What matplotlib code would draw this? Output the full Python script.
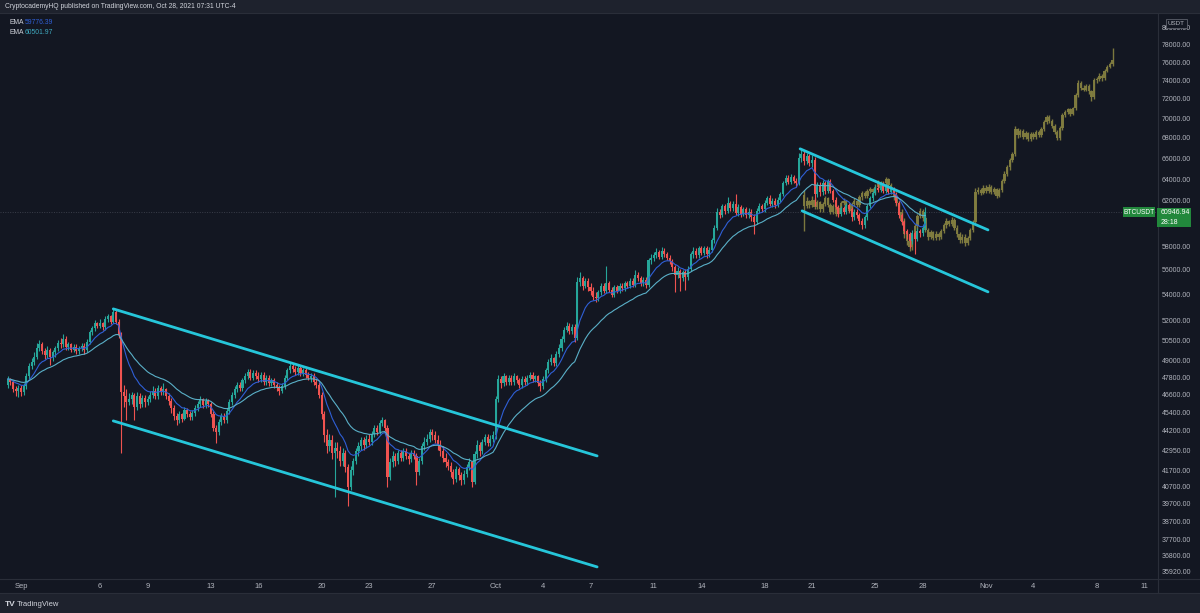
import numpy as np
import pandas as pd
import matplotlib
matplotlib.use("Agg")
import matplotlib.pyplot as plt
from matplotlib.patches import Rectangle
from matplotlib.lines import Line2D
from matplotlib.ticker import NullLocator

# ---------------- DATA ----------------
REAL_START = "2021-08-31 04:00"   # 4h candles
REAL_FIRST_OPEN = 47300
real_close = [
    47700, 47500, 47000, 46900, 47100,                 # Aug 31
    46800, 47200, 47900, 48600, 48900, 49300,          # Sep 1
    49900, 50200, 49700, 49400, 49800, 49300,          # Sep 2
    49600, 49900, 50300, 50200, 50600, 50000,          # Sep 3
    50200, 49800, 50000, 49700, 49900, 50100,          # Sep 4
    49800, 50400, 51100, 51400, 51800, 51600,          # Sep 5
    51800, 51500, 52100, 52300, 51900, 52600,          # Sep 6
    51900, 50900, 46800, 46500, 46100, 46300,          # Sep 7
    46600, 45800, 46500, 46000, 46400, 46100,          # Sep 8
    46300, 46600, 46900, 46500, 47100, 46800,          # Sep 9
    47000, 46500, 46200, 45700, 45200, 44900,          # Sep 10
    45300, 45000, 45600, 45300, 45100, 45400,          # Sep 11
    45700, 46000, 46300, 45900, 46200, 46000,          # Sep 12
    45300, 44400, 44100, 44800, 45200, 44900,          # Sep 13
    45500, 46100, 46600, 47000, 47300, 47100,          # Sep 14
    47600, 47900, 48200, 47800, 48100, 47900,          # Sep 15
    47700, 48000, 47500, 47800, 47400, 47600,          # Sep 16
    47300, 47100, 46900, 47200, 47800, 48300,          # Sep 17
    48600, 48400, 48200, 48500, 48100, 48300,          # Sep 18
    48000, 47800, 47900, 47500, 47300, 46600,          # Sep 19
    45300, 43900, 43200, 43600, 42800, 43100,          # Sep 20
    42900, 42300, 42800, 41900, 40700, 41700,          # Sep 21
    42300, 42900, 43200, 43600, 43300, 43700,          # Sep 22
    43500, 44000, 44400, 44100, 44700, 44900,          # Sep 23
    44400, 41300, 42200, 42600, 42300, 42800,          # Sep 24
    42500, 42900, 42600, 42400, 42800, 42600,          # Sep 25
    41600, 42300, 43200, 43500, 43700, 44100,          # Sep 26
    43900, 43600, 43300, 42900, 42500, 42200,          # Sep 27
    42000, 41600, 41200, 41800, 41400, 41100,          # Sep 28
    41500, 41900, 42200, 41000, 42700, 43300,          # Sep 29
    42900, 43500, 43800, 43400, 43700, 43900,          # Sep 30
    46300, 47700, 47400, 47900, 47500, 47800,          # Oct 1
    47500, 47900, 47600, 47300, 47700, 47500,          # Oct 2
    47800, 48000, 47700, 47900, 47400, 47200,          # Oct 3
    47700, 48300, 48900, 49200, 48800, 49500,          # Oct 4
    49900, 50600, 51300, 51600, 51200, 51500,          # Oct 5
    50700, 55000, 55300, 54700, 55100, 54600,          # Oct 6
    54300, 53800, 53700, 54200, 54700, 54300,          # Oct 7
    54900, 54400, 54000, 54600, 54300, 54700,          # Oct 8
    54500, 54900, 54700, 55100, 54800, 55600,          # Oct 9
    55300, 54900, 55200, 54800, 56800, 57000,          # Oct 10
    57200, 57500, 57100, 57600, 57300, 57000,          # Oct 11
    56700, 56200, 55600, 55900, 55300, 55800,          # Oct 12
    55400, 56100, 57300, 57600, 57200, 57800,          # Oct 13
    57400, 57800, 57300, 57700, 58500, 59600,          # Oct 14
    61000, 60700, 61500, 61100, 61800, 61300,          # Oct 15
    61700, 60900, 61400, 60800, 61200, 60700,          # Oct 16
    61000, 60500, 60100, 61100, 61500, 61200,          # Oct 17
    61800, 62200, 61700, 62000, 61600, 62100,          # Oct 18
    62600, 63600, 64100, 63700, 64200, 63800,          # Oct 19
    63600, 66000, 66400, 65700, 66200, 65500,          # Oct 20
    65800, 62600, 63400, 62800, 63600, 62900,          # Oct 21
    63800, 62900, 62100, 61400, 60800, 61300,          # Oct 22
    61000, 61600, 61200, 60500, 61000, 60700,          # Oct 23
    60200, 59800, 60500, 61500, 62200, 62700,          # Oct 24
    63200, 63000, 63500, 62900, 63300, 62800,          # Oct 25
    63100, 62600, 61800, 60700, 60100, 59300,          # Oct 26
    59000, 58400, 59100, 58600, 59300, 59100,          # Oct 27
    59600, 60946.94,                                   # Oct 28
]
real_high = [
    47900, 47800, 47600, 47200, 47300,
    47300, 47400, 48100, 48800, 49200, 49600,
    50300, 50500, 50400, 49900, 50100, 49900,
    49800, 50100, 50500, 50700, 51000, 50800,
    50400, 50300, 50200, 50200, 50100, 50300,
    50300, 50600, 51300, 51600, 52000, 51900,
    52100, 51900, 52300, 52500, 52400, 52900,
    52900, 52100, 51100, 47300, 47000, 46700,
    46800, 46700, 46800, 46700, 46600, 46600,
    46500, 46900, 47200, 47100, 47300, 47200,
    47400, 47100, 46700, 46400, 45900, 45400,
    45500, 45400, 45800, 45700, 45500, 45600,
    45900, 46200, 46500, 46400, 46400, 46300,
    46100, 45500, 44600, 45000, 45400, 45400,
    45700, 46300, 46800, 47200, 47500, 47500,
    47800, 48100, 48400, 48400, 48300, 48300,
    48200, 48200, 48200, 48000, 48000, 47800,
    47800, 47500, 47300, 47400, 48000, 48500,
    48800, 48800, 48600, 48700, 48600, 48500,
    48500, 48200, 48100, 48100, 47700, 47500,
    46800, 45500, 44300, 44000, 43900, 43500,
    43500, 43200, 43100, 43000, 42100, 42000,
    42500, 43100, 43500, 43800, 43800, 43900,
    44000, 44200, 44600, 44600, 44900, 45100,
    45000, 44600, 42500, 42900, 42800, 43000,
    43000, 43100, 43100, 42800, 43000, 43000,
    42800, 42500, 43400, 43800, 44000, 44300,
    44300, 44200, 43900, 43600, 43200, 42800,
    42400, 42200, 41800, 42000, 41900, 41600,
    41700, 42100, 42500, 42300, 42900, 43600,
    43500, 43700, 44000, 44000, 43900, 44200,
    46500, 48000, 47900, 48100, 48000, 48000,
    48000, 48100, 48000, 47800, 47900, 47900,
    48000, 48200, 48200, 48000, 48000, 47600,
    47900, 48500, 49100, 49500, 49300, 49700,
    50200, 50800, 51500, 51900, 51800, 51700,
    51700, 55400, 55800, 55500, 55300, 55300,
    54900, 54600, 54200, 54400, 54900, 54900,
    56300, 55100, 54600, 54800, 54800, 54900,
    54900, 55100, 55100, 55300, 55300, 56000,
    55800, 55500, 55400, 55400, 57000, 57300,
    57500, 57800, 57700, 57900, 57800, 57500,
    57200, 56900, 56400, 56200, 56100, 56000,
    56100, 56300, 57500, 57900, 57800, 58000,
    58000, 58000, 58000, 57900, 58700, 59800,
    61300, 61200, 61700, 61700, 62300, 62000,
    62000, 62600, 61700, 61600, 61400, 61400,
    61300, 61200, 60800, 61300, 61800, 61700,
    62100, 62400, 62500, 62200, 62200, 62300,
    62800, 63800, 64400, 64400, 64500, 64400,
    64100, 66500, 67000, 66700, 66500, 66400,
    66300, 66100, 63700, 63700, 63900, 63800,
    64000, 64000, 63100, 62300, 61600, 61500,
    61500, 61800, 61800, 61400, 61200, 61200,
    60900, 60400, 60700, 61700, 62400, 62900,
    63400, 63500, 63700, 63700, 63500, 63400,
    63300, 63300, 62800, 62000, 60900, 60300,
    59500, 59200, 59400, 59300, 59600, 59500,
    59900, 61400,
]
real_low = [
    47100, 47300, 46800, 46500, 46450,
    46500, 46600, 47000, 47700, 48400, 48700,
    49100, 49700, 49500, 49100, 49200, 48700,
    49000, 49300, 49700, 49900, 50000, 49800,
    49800, 49600, 49600, 49500, 49500, 49700,
    49500, 49600, 50200, 50900, 51200, 51400,
    51400, 51300, 51300, 51900, 51700, 51800,
    51700, 50700, 42800, 45800, 44900, 45900,
    46000, 44900, 45600, 45700, 45800, 45800,
    45900, 46100, 46400, 46300, 46300, 46600,
    46600, 46300, 45900, 45400, 44900, 44600,
    44700, 44800, 44900, 45100, 44900, 44900,
    45200, 45500, 45800, 45700, 45700, 45800,
    45100, 44200, 43400, 43900, 44600, 44700,
    44700, 45300, 45900, 46400, 46800, 46900,
    46900, 47400, 47700, 47600, 47600, 47700,
    47500, 47500, 47300, 47300, 47200, 47200,
    47100, 46900, 46600, 46700, 47000, 47600,
    48100, 48200, 48000, 48000, 47900, 47900,
    47800, 47600, 47500, 47300, 47100, 46400,
    45000, 43500, 42800, 42900, 42400, 40100,
    42500, 42000, 42000, 41600, 39600, 40500,
    41400, 42100, 42600, 43000, 43000, 43100,
    43300, 43300, 43800, 43900, 44000, 44500,
    44200, 40700, 41100, 41900, 42000, 42100,
    42300, 42300, 42400, 42100, 42200, 42400,
    40800, 41400, 42100, 43000, 43300, 43500,
    43600, 43400, 43000, 42600, 42200, 41900,
    41700, 41300, 40900, 41000, 41100, 40800,
    40900, 41300, 41700, 40700, 40900, 42500,
    42600, 42700, 43300, 43200, 43200, 43500,
    43700, 46100, 47100, 47200, 47300, 47300,
    47300, 47300, 47400, 47100, 47100, 47300,
    47300, 47600, 47500, 47500, 47200, 46900,
    47000, 47500, 48100, 48700, 48600, 48600,
    49300, 49700, 50400, 51100, 51000, 51000,
    50400, 50500, 54700, 54400, 54500, 54300,
    54000, 53600, 53400, 53500, 54000, 54100,
    54100, 54200, 53800, 53800, 54100, 54100,
    54300, 54300, 54500, 54500, 54600, 54600,
    55100, 54700, 54700, 54500, 54600, 56500,
    56700, 57000, 56900, 56900, 57100, 56800,
    56500, 55900, 54200, 55300, 54300, 55100,
    54400, 55200, 55900, 57000, 57000, 57000,
    57200, 57200, 57000, 57100, 57500, 58300,
    59400, 60400, 60500, 60800, 60900, 61100,
    61100, 60700, 60600, 60500, 60600, 60400,
    60400, 60200, 59000, 59900, 60900, 61000,
    61000, 61600, 61500, 61400, 61300, 61400,
    61900, 62400, 63400, 63500, 63500, 63600,
    63300, 63400, 65600, 65300, 65400, 65200,
    65100, 61500, 62300, 62400, 62500, 62600,
    62700, 62700, 61900, 61200, 60500, 60600,
    60800, 60800, 61000, 60200, 60300, 60400,
    59900, 59500, 59600, 60300, 61300, 62000,
    62500, 62800, 62800, 62700, 62700, 62600,
    62600, 62400, 61600, 60400, 59800, 59000,
    58600, 57800, 58200, 57300, 58400, 58800,
    58900, 59400,
]

# projected "bars pattern" (olive ghost bars)
GHOST_START = "2021-10-20 12:00"
GHOST_FIRST_OPEN = 62500
ghost_close = [
    61500, 62000, 61600,                               # Oct 20
    62100, 61400, 61900, 61200, 61700, 62200,          # Oct 21
    61600, 61000, 61500, 60800, 61300, 61800,          # Oct 22
    62000, 61500, 61100, 61700, 62000, 61600,          # Oct 23
    62300, 62700, 62400, 62900, 63100, 62800,          # Oct 24
    63300, 63700, 63200, 63600, 64000, 63400,          # Oct 25
    62900, 62300, 61800, 61000, 60200, 59000,          # Oct 26
    58400, 57900, 58800, 59700, 60600, 61100,          # Oct 27
    60400, 59400, 58800, 59200, 58700, 59000,          # Oct 28
    58800, 59300, 59800, 60200, 59900, 60300,          # Oct 29
    59600, 59000, 58500, 58800, 58300, 58700,          # Oct 30
    59400, 60100, 62800, 63000, 62700, 63200,          # Oct 31
    62900, 63300, 62800, 63100, 62400, 63000,          # Nov 1
    63800, 64500, 65100, 65800, 66400, 68900,          # Nov 2
    68300, 68700, 68100, 68500, 67900, 68400,          # Nov 3
    68100, 68600, 68300, 68900, 69600, 70100,          # Nov 4
    69700, 69200, 68600, 68000, 69000, 70300,          # Nov 5
    70600, 70900, 70400, 71000, 72400, 73700,          # Nov 6
    73200, 73000, 73400, 72800, 72200, 74000,          # Nov 7
    74100, 74500, 74200, 75000, 75500, 75800,          # Nov 8
    76200,                                             # Nov 9
]
ghost_high = [
    63000, 62300, 62100,
    62400, 62200, 62100, 62000, 61900, 62400,
    62300, 61800, 61700, 61600, 61500, 62000,
    62200, 62100, 61600, 61900, 62200, 62100,
    62500, 62900, 62900, 63100, 63300, 63200,
    63500, 63900, 63800, 63800, 64200, 64100,
    63600, 63100, 62500, 62000, 61200, 60400,
    59200, 58700, 59000, 59900, 60800, 61300,
    61200, 60600, 59600, 59400, 59300, 59300,
    59200, 59500, 60000, 60400, 60300, 60500,
    60400, 59800, 59200, 59000, 59000, 58900,
    59600, 60300, 63200, 63300, 63200, 63400,
    63400, 63500, 63400, 63300, 63200, 63200,
    64000, 64800, 65300, 66000, 66600, 69200,
    69000, 68900, 68900, 68700, 68600, 68600,
    68600, 68800, 68800, 69100, 69800, 70300,
    70300, 69900, 69400, 68800, 69200, 70500,
    70800, 71100, 71100, 71200, 72600, 74000,
    73900, 73500, 73600, 73600, 73000, 74200,
    74400, 74800, 74700, 75200, 75700, 76000,
    77600,
]
ghost_low = [
    59300, 61300, 61300,
    61400, 61200, 61200, 61000, 61000, 61500,
    61400, 60800, 60800, 60600, 60700, 61100,
    61600, 61300, 60900, 61000, 61500, 61400,
    61400, 62100, 62200, 62200, 62700, 62600,
    62600, 63100, 63000, 63000, 63400, 63200,
    62700, 62100, 61500, 60700, 59900, 58700,
    58100, 57600, 57700, 58600, 59500, 60400,
    60200, 59200, 58500, 58600, 58500, 58500,
    58500, 58600, 59100, 59600, 59700, 59700,
    59400, 58800, 58300, 58300, 58000, 58100,
    58500, 59200, 60000, 62600, 62500, 62600,
    62700, 62700, 62600, 62600, 62200, 62300,
    62800, 63600, 64300, 64900, 65600, 66200,
    68000, 68100, 67900, 67900, 67700, 67700,
    67900, 67900, 68100, 68100, 68700, 69400,
    69500, 69000, 68400, 67800, 67800, 68800,
    70100, 70400, 70200, 70300, 70800, 72200,
    73000, 72800, 72800, 72500, 71800, 72000,
    73700, 73900, 73900, 74000, 74900, 75300,
    75600,
]

# trend-channel drawings (time, price)
channel_a_upper = (["2021-09-06 20:00", "2021-10-07 10:00"], [52880, 42600])
channel_a_lower = (["2021-09-06 20:00", "2021-10-07 10:00"], [44850, 36185])
channel_b_upper = (["2021-10-20 06:00", "2021-11-01 03:00"], [66910, 59390])
channel_b_lower = (["2021-10-20 09:00", "2021-11-01 03:00"], [61075, 54220])

y_ticks = [80000, 78000, 76000, 74000, 72000, 70000, 68000, 66000, 64000, 62000,
           58000, 56000, 54000, 52000, 50500, 49000, 47800, 46600, 45400, 44200,
           42950, 41700, 40700, 39700, 38700, 37700, 36800, 35920]
x_tick_dates = ["2021-09-01", "2021-09-06", "2021-09-09", "2021-09-13", "2021-09-16",
                "2021-09-20", "2021-09-23", "2021-09-27", "2021-10-01", "2021-10-04",
                "2021-10-07", "2021-10-11", "2021-10-14", "2021-10-18", "2021-10-21",
                "2021-10-25", "2021-10-28", "2021-11-01", "2021-11-04", "2021-11-08",
                "2021-11-11"]
x_tick_labels = ["Sep", "6", "9", "13", "16", "20", "23", "27", "Oct", "4", "7", "11",
                 "14", "18", "21", "25", "28", "Nov", "4", "8", "11"]

last_price = 60946.94
ema_fast_label = "59776.39"
ema_slow_label = "60501.97"
header = "CryptocademyHQ published on TradingView.com, Oct 28, 2021 07:31 UTC-4"

# ---------------- STYLE ----------------
BG = "#131722"
FIG_BG = "#1e222d"
UP = "#26a69a"
DN = "#ef5350"
GHOST = "#827e40"
CYAN = "#26c6da"
EMA_FAST_C = "#2f5fd6"
EMA_SLOW_C = "#5ab0c8"
TXT = "#b2b5be"
SEP = "#2a2e39"
GREEN = "#22883c"
FONT = ["Liberation Sans", "DejaVu Sans"]
plt.rcParams["font.family"] = FONT

W, H = 1200, 613
ORIGIN = pd.Timestamp("2021-09-01")


def to_days(ts):
    return np.asarray((pd.to_datetime(ts) - ORIGIN) / pd.Timedelta(days=1), dtype=float)


def fx(px):
    return px / W


def fy(py):
    return 1 - py / H


fig = plt.figure(figsize=(W / 100, H / 100), dpi=100)
fig.patch.set_facecolor(FIG_BG)
fig.patches.append(Rectangle((0, fy(593)), 1, fy(13) - fy(593), transform=fig.transFigure,
                             facecolor=BG, edgecolor="none", zorder=-10))

ax = fig.add_axes([0, fy(578), fx(1157), fy(13) - fy(578)])
ax.set_zorder(1)
ax.set_facecolor(BG)
for s in ax.spines.values():
    s.set_visible(False)
ax.set_yscale("log")


def draw_candles(t, first_open, c, h, l, up, dn, width, lw, z, alpha=1.0):
    c = np.asarray(c, float)
    o = np.concatenate([[first_open], c[:-1]])
    colors = np.where(c >= o, up, dn)
    ax.vlines(t, l, h, colors=list(colors), lw=lw, zorder=z, alpha=alpha)
    ax.bar(t, np.abs(c - o), width=width, bottom=np.minimum(o, c), color=list(colors),
           linewidth=0, zorder=z + 0.1, alpha=alpha)


bar_step = pd.Timedelta(hours=4)
real_t = to_days(pd.date_range(REAL_START, periods=len(real_close), freq=bar_step))
ghost_t = to_days(pd.date_range(GHOST_START, periods=len(ghost_close), freq=bar_step))

# ghost bars first (behind)
draw_candles(ghost_t, GHOST_FIRST_OPEN, ghost_close, ghost_high, ghost_low, GHOST, GHOST,
             0.15, 1.0, 2, alpha=0.95)
# real candles
draw_candles(real_t, REAL_FIRST_OPEN, real_close, real_high, real_low, UP, DN, 0.13, 0.8, 4)

# EMAs
cs = pd.Series(real_close, dtype=float)
ax.plot(real_t, cs.ewm(span=10, adjust=False).mean(), color=EMA_FAST_C, lw=0.8, zorder=5)
ax.plot(real_t, cs.ewm(span=25, adjust=False).mean(), color=EMA_SLOW_C, lw=0.8, zorder=5)

# channels
for d, p in (channel_a_upper, channel_a_lower, channel_b_upper, channel_b_lower):
    ax.plot(to_days(d), p, color=CYAN, lw=2.0, solid_capstyle="round", zorder=6)

# last price line
ax.axhline(last_price, color="#3a3e4a", lw=0.7, ls=(0, (1, 1.5)), zorder=1)

ax.set_xlim(-1.3274, 71.808)
ax.set_ylim(35600, 81700)

ax.set_yticks(y_ticks, [f"{v:.2f}" for v in y_ticks])
ax.yaxis.set_minor_locator(NullLocator())
ax.yaxis.tick_right()
ax.tick_params(axis="y", which="both", length=0, pad=3.5, labelsize=5.0, labelcolor=TXT)
ax.set_xticks(to_days(x_tick_dates), x_tick_labels)
ax.tick_params(axis="x", length=0, pad=3.5, labelsize=5.5, labelcolor=TXT)

# separators
for (x0, y0, x1, y1) in [(1157.5, 13, 1157.5, 593), (0, 578.5, 1200, 578.5),
                         (0, 593, 1200, 593), (0, 12.5, 1200, 12.5)]:
    fig.add_artist(Line2D([fx(x0), fx(x1)], [fy(y0), fy(y1)], color=SEP, lw=0.8,
                          transform=fig.transFigure, zorder=2))

# header and legend
fig.text(fx(5), fy(6), header, fontsize=4.9, color="#d1d4dc", va="center", ha="left", zorder=3)
fig.text(fx(9), fy(23), "EMA", fontsize=4.9, color="#d1d4dc", va="center", zorder=3)
fig.text(fx(25), fy(23), ema_fast_label, fontsize=4.9, color=EMA_FAST_C, va="center", zorder=3)
fig.text(fx(9), fy(33), "EMA", fontsize=4.9, color="#d1d4dc", va="center", zorder=3)
fig.text(fx(25), fy(33), ema_slow_label, fontsize=4.9, color="#3fa9bf", va="center", zorder=3)

# last price label
fig.patches.append(Rectangle((fx(1157), fy(227)), fx(34), fy(208) - fy(227),
                             transform=fig.transFigure, facecolor=GREEN, edgecolor="none", zorder=3))
fig.text(fx(1161), fy(213), f"{last_price:.2f}", fontsize=5.0, color="white", va="center", zorder=4)
fig.text(fx(1161), fy(222), "28:18", fontsize=5.0, color="white", va="center", zorder=4)
fig.patches.append(Rectangle((fx(1123), fy(217)), fx(32), fy(207) - fy(217),
                             transform=fig.transFigure, facecolor=GREEN, edgecolor="none", zorder=3))
fig.text(fx(1139), fy(212), "BTCUSDT", fontsize=4.8, color="white", va="center", ha="center", zorder=4)

# currency label
fig.patches.append(Rectangle((fx(1166), fy(28)), fx(21), fy(19) - fy(28),
                             transform=fig.transFigure, facecolor=BG, edgecolor="#5d606b",
                             lw=0.6, zorder=5))
fig.text(fx(1176.5), fy(23.5), "USDT", fontsize=4.5, color=TXT, va="center", ha="center", zorder=6)

# footer
fig.text(fx(5), fy(604), "TV", fontsize=6, color="#d1d4dc", va="center", fontweight="bold")
fig.text(fx(17), fy(604), "TradingView", fontsize=5.5, color="#d1d4dc", va="center")

fig.savefig("out.png", dpi=100, facecolor=fig.get_facecolor())
